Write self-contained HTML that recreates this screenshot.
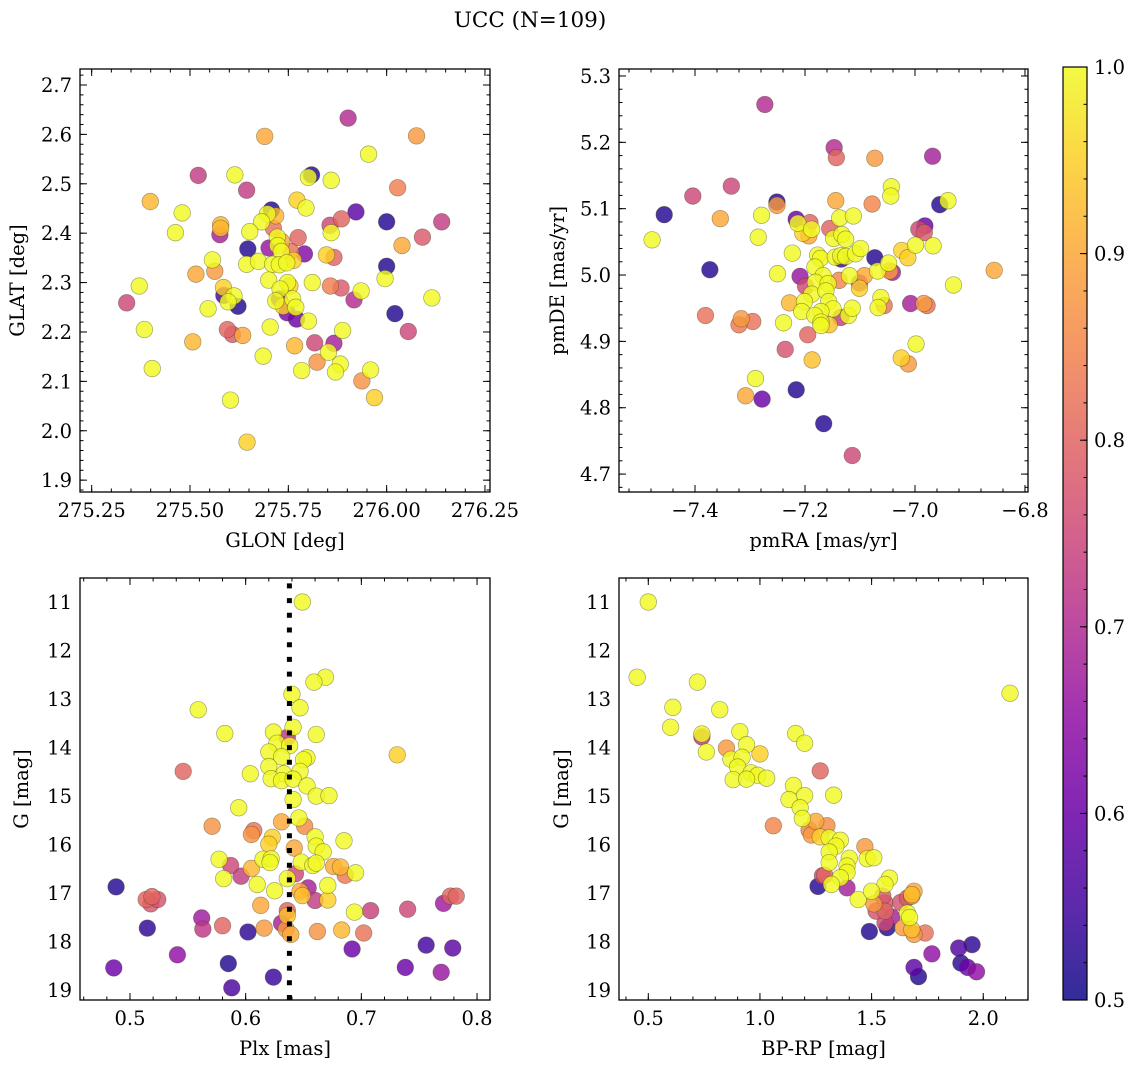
<!DOCTYPE html>
<html><head><meta charset="utf-8"><style>
html,body{margin:0;padding:0;background:#fff;}
svg{display:block;font-family:"DejaVu Serif","Liberation Serif",serif;}
</style></head><body>
<svg id="fig" width="1136" height="1067" viewBox="0 0 1136 1067" xmlns="http://www.w3.org/2000/svg">
<defs>
<linearGradient id="plasma" x1="0" y1="1" x2="0" y2="0">
<stop offset="0" stop-color="#0d0887"/><stop offset="0.1" stop-color="#41049d"/><stop offset="0.2" stop-color="#6a00a8"/><stop offset="0.3" stop-color="#8f0da4"/><stop offset="0.4" stop-color="#b12a90"/><stop offset="0.5" stop-color="#cc4778"/><stop offset="0.6" stop-color="#e16462"/><stop offset="0.7" stop-color="#f2844b"/><stop offset="0.8" stop-color="#fca636"/><stop offset="0.9" stop-color="#fcce25"/><stop offset="1" stop-color="#f0f921"/>
</linearGradient>
</defs>
<text x="530" y="27" text-anchor="middle" font-size="21.5">UCC (N=109)</text>
</svg>
<script>
// Panel 1: GLON vs GLAT
const p1_glon=[275.902,275.690,276.076,275.954,275.521,275.614,275.809,275.801,275.859,275.644,276.028,275.399,275.772,275.795,275.480,275.707,275.697,275.718,275.922,276.000,276.140,275.682,275.885,275.856,275.578,275.578,275.576,275.712,275.652,275.463,275.859,276.091,275.775,276.039,275.722,275.733,275.723,275.647,275.701,275.732,275.756,275.791,275.847,275.866,275.557,275.644,275.674,275.710,275.727,275.746,275.763,276.000,275.563,275.515,275.996,275.700,275.748,275.754,275.811,275.857,275.884,275.729,275.371,275.585,275.935,275.586,275.612,275.761,276.115,275.339,275.917,275.597,275.718,275.727,275.737,275.769,275.622,275.546,275.747,275.771,276.021,275.801,275.384,275.595,275.608,275.634,275.704,275.888,276.055,275.507,275.817,275.866,275.766,275.852,275.686,275.823,275.882,275.870,275.784,275.959,275.404,275.937,275.969,275.603,275.645];
const p1_glat=[2.633,2.596,2.597,2.560,2.517,2.518,2.518,2.513,2.507,2.487,2.492,2.464,2.467,2.451,2.441,2.447,2.439,2.435,2.443,2.423,2.423,2.423,2.429,2.416,2.417,2.410,2.397,2.410,2.403,2.401,2.401,2.392,2.391,2.375,2.392,2.383,2.375,2.368,2.370,2.363,2.363,2.358,2.356,2.351,2.346,2.337,2.343,2.337,2.336,2.340,2.345,2.333,2.323,2.317,2.308,2.305,2.300,2.293,2.300,2.293,2.289,2.287,2.293,2.290,2.283,2.274,2.273,2.267,2.269,2.259,2.265,2.261,2.263,2.267,2.252,2.250,2.252,2.247,2.239,2.226,2.237,2.222,2.205,2.205,2.195,2.193,2.210,2.203,2.201,2.180,2.178,2.177,2.172,2.159,2.151,2.139,2.135,2.119,2.122,2.123,2.126,2.101,2.067,2.062,1.977];
const p1_prob=[0.70,0.90,0.88,1,0.73,1,0.52,1,1,0.73,0.84,0.92,0.95,1,1,0.52,1,0.92,0.58,0.52,0.73,1,0.80,0.75,0.92,0.92,0.68,0.82,1,1,1,0.78,0.80,0.90,1,0.90,1,0.52,0.66,1,0.82,0.63,0.95,0.80,1,1,1,1,1,1,0.95,0.52,0.88,0.90,1,1,1,0.95,1,0.84,0.78,1,1,0.95,1,0.55,1,1,1,0.75,0.70,1,1,0.60,0.95,1,0.52,1,0.62,0.60,0.52,1,1,0.80,0.78,0.90,1,1,0.75,0.92,0.75,0.68,0.92,1,1,0.87,1,1,1,1,1,0.87,0.95,1,0.95];
// Panel 2: pmRA vs pmDE
const p2_pmra=[-7.273,-7.147,-7.143,-7.073,-6.968,-7.334,-7.404,-7.043,-7.044,-7.251,-7.251,-7.144,-7.078,-6.955,-6.940,-7.456,-7.354,-7.279,-7.216,-7.213,-7.191,-7.188,-7.204,-7.193,-7.155,-7.137,-7.112,-7.478,-7.285,-7.148,-7.133,-7.126,-6.993,-6.982,-6.983,-6.999,-6.967,-7.223,-7.177,-7.172,-7.145,-7.134,-7.135,-7.126,-7.108,-7.099,-7.073,-7.024,-7.013,-7.373,-7.250,-7.182,-7.167,-7.209,-7.199,-7.181,-7.158,-7.138,-7.119,-7.101,-7.101,-7.092,-7.068,-7.048,-7.046,-7.041,-6.856,-6.930,-7.188,-7.201,-7.228,-7.206,-7.162,-7.157,-7.149,-7.171,-7.182,-7.171,-7.171,-7.156,-7.135,-7.121,-7.114,-7.062,-7.067,-7.056,-7.008,-6.984,-6.978,-7.381,-7.316,-7.320,-7.295,-7.239,-7.195,-7.236,-7.187,-6.998,-7.025,-7.012,-7.290,-7.308,-7.278,-7.216,-7.166,-7.114];
const p2_pmde=[5.257,5.192,5.177,5.176,5.179,5.134,5.119,5.133,5.119,5.110,5.105,5.112,5.107,5.106,5.112,5.091,5.085,5.090,5.084,5.078,5.079,5.069,5.063,5.059,5.070,5.086,5.089,5.053,5.057,5.055,5.061,5.054,5.069,5.074,5.064,5.045,5.044,5.033,5.030,5.025,5.027,5.024,5.029,5.028,5.032,5.040,5.026,5.037,5.026,5.008,5.002,5.012,4.999,4.998,4.983,4.989,4.987,4.992,4.999,4.988,4.980,4.999,5.006,5.018,5.006,5.004,5.007,4.985,4.971,4.960,4.958,4.945,4.976,4.960,4.949,4.945,4.939,4.929,4.924,4.925,4.936,4.939,4.950,4.966,4.951,4.954,4.957,4.957,4.954,4.939,4.934,4.925,4.930,4.928,4.910,4.888,4.872,4.896,4.875,4.866,4.844,4.818,4.813,4.827,4.776,4.728];
const p2_prob=[0.70,0.70,0.80,0.88,0.68,0.75,0.75,1,1,0.52,0.88,0.90,0.85,0.52,1,0.52,0.90,1,0.60,1,0.80,1,0.95,0.90,0.80,1,1,1,1,1,1,1,0.75,0.60,0.78,1,1,1,1,1,1,0.55,1,1,1,1,0.52,0.95,0.95,0.52,1,1,1,0.66,0.75,1,1,0.85,1,0.68,0.95,0.90,1,1,0.88,0.68,0.90,1,1,1,0.92,1,1,1,1,1,1,1,1,0.93,0.73,1,1,1,1,0.82,0.68,0.88,0.82,0.82,0.88,0.83,0.82,1,0.80,0.77,0.93,1,0.95,0.88,1,0.90,0.60,0.52,0.52,0.75];
// Panel 3: Plx vs G
const p3_plx=[0.649,0.669,0.659,0.640,0.647,0.559,0.641,0.582,0.624,0.661,0.636,0.731,0.627,0.638,0.620,0.631,0.653,0.650,0.546,0.604,0.620,0.633,0.647,0.622,0.631,0.641,0.653,0.661,0.672,0.641,0.594,0.646,0.571,0.631,0.651,0.607,0.605,0.623,0.660,0.620,0.661,0.685,0.642,0.667,0.577,0.615,0.622,0.621,0.648,0.658,0.661,0.587,0.605,0.676,0.682,0.686,0.695,0.596,0.581,0.636,0.643,0.610,0.654,0.647,0.649,0.671,0.625,0.488,0.514,0.519,0.518,0.524,0.660,0.671,0.613,0.777,0.782,0.771,0.636,0.694,0.708,0.740,0.636,0.562,0.631,0.580,0.563,0.515,0.602,0.616,0.635,0.639,0.662,0.683,0.702,0.692,0.756,0.779,0.541,0.585,0.486,0.738,0.769,0.624,0.588];
const p3_g=[11.0,12.55,12.65,12.9,13.18,13.22,13.58,13.71,13.68,13.73,13.79,14.15,13.91,13.96,14.09,14.19,14.21,14.25,14.49,14.54,14.39,14.54,14.49,14.64,14.68,14.65,14.79,15.0,14.99,15.07,15.24,15.45,15.62,15.53,15.62,15.71,15.79,15.85,15.84,15.99,16.03,15.92,16.07,16.15,16.3,16.3,16.29,16.37,16.36,16.43,16.38,16.43,16.49,16.45,16.46,16.63,16.58,16.65,16.7,16.7,16.6,16.82,16.89,16.96,17.05,16.84,16.95,16.87,17.13,17.07,17.22,17.13,17.15,17.14,17.25,17.06,17.06,17.21,17.36,17.39,17.36,17.33,17.46,17.51,17.62,17.67,17.74,17.72,17.8,17.72,17.74,17.85,17.79,17.76,17.82,18.15,18.07,18.13,18.27,18.45,18.54,18.53,18.63,18.73,18.95];
const p3_prob=[1,1,1,1,1,1,1,1,1,1,0.72,0.95,1,1,1,1,1,1,0.80,1,1,1,1,1,1,1,1,1,1,1,1,1,0.87,0.90,0.86,0.82,0.87,0.95,1,0.95,1,1,0.90,1,1,1,1,1,1,1,1,0.75,0.92,0.90,0.92,0.83,1,0.73,1,1,0.75,1,0.68,0.90,0.93,1,1,0.52,0.80,0.80,0.77,0.77,0.73,0.95,0.90,0.80,0.80,0.67,0.80,1,0.74,0.75,0.93,0.67,0.68,0.80,0.72,0.53,0.53,0.88,0.88,0.90,0.87,0.92,0.82,0.60,0.55,0.58,0.65,0.52,0.60,0.60,0.66,0.54,0.56];
// Panel 4: BP-RP vs G
const p4_bprp=[0.50,0.45,0.72,2.12,0.61,0.82,0.60,0.74,0.74,0.91,1.16,1.20,0.94,0.76,0.85,1.00,0.87,0.92,0.90,1.27,0.96,0.99,0.88,0.94,1.03,1.15,1.33,1.20,1.13,1.18,1.19,1.06,1.25,1.30,1.22,1.23,1.27,1.31,1.36,1.34,1.47,1.31,1.40,1.48,1.51,1.39,1.31,1.39,1.36,1.29,1.28,1.32,1.26,1.39,1.58,1.56,1.44,1.50,1.51,1.55,1.56,1.52,1.56,1.59,1.56,1.57,1.49,1.63,1.66,1.68,1.69,1.68,1.66,1.67,1.64,1.68,1.69,1.74,1.77,1.89,1.95,1.90,1.93,1.69,1.97,1.71];
const p4_g=[11.0,12.55,12.65,12.88,13.17,13.22,13.58,13.78,13.72,13.67,13.71,13.91,13.94,14.09,14.01,14.13,14.24,14.2,14.4,14.48,14.52,14.57,14.66,14.65,14.63,14.78,14.98,14.99,15.07,15.24,15.46,15.61,15.52,15.61,15.7,15.8,15.84,15.86,15.91,16.03,16.04,16.15,16.28,16.29,16.27,16.44,16.37,16.57,16.68,16.63,16.64,16.82,16.86,16.89,16.69,16.82,17.13,16.96,17.22,17.06,17.2,17.37,17.37,17.49,17.61,17.71,17.79,17.19,17.1,17.06,16.96,17.03,17.41,17.5,17.71,17.75,17.85,17.82,18.25,18.13,18.06,18.44,18.53,18.53,18.62,18.72];
const p4_prob=[1,1,1,1,1,1,1,0.72,1,1,1,1,1,1,0.88,0.95,1,1,1,0.80,1,1,1,1,1,1,1,1,1,1,1,0.85,0.90,0.86,0.85,0.88,0.95,1,1,1,0.88,1,1,1,1,1,1,1,1,0.80,0.75,1,0.52,0.68,1,1,1,1,0.88,0.78,0.77,0.77,0.80,0.68,0.75,0.52,0.52,0.77,0.78,0.88,0.90,0.93,1,1,0.88,0.93,0.88,0.82,0.65,0.57,0.53,0.53,0.60,0.58,0.65,0.52];
// Tick labels
const p1_xticks=[275.25,275.50,275.75,276.00,276.25];
const p1_yticks=[1.9,2.0,2.1,2.2,2.3,2.4,2.5,2.6,2.7];
const p2_xticks=[-7.4,-7.2,-7.0,-6.8];
const p2_yticks=[4.7,4.8,4.9,5.0,5.1,5.2,5.3];
const p3_xticks=[0.5,0.6,0.7,0.8];
const g_yticks=[11,12,13,14,15,16,17,18,19];
const p4_xticks=[0.5,1.0,1.5,2.0];
const cb_ticks=[0.5,0.6,0.7,0.8,0.9,1.0];
const plxMedian=0.6378;

const NS='http://www.w3.org/2000/svg';
const svg=document.getElementById('fig');
const FS=19.5;
function mk(tag,attrs,parent){const e=document.createElementNS(NS,tag);for(const k in attrs)e.setAttribute(k,attrs[k]);(parent||svg).appendChild(e);return e;}
const stops=[[0,[13,8,135]],[0.1,[65,4,157]],[0.2,[106,0,168]],[0.3,[143,13,164]],[0.4,[177,42,144]],[0.5,[204,71,120]],[0.6,[225,100,98]],[0.7,[242,132,75]],[0.8,[252,166,54]],[0.9,[252,206,37]],[1,[240,249,33]]];
function plasma(t){t=Math.max(0,Math.min(1,t));for(let i=1;i<stops.length;i++){if(t<=stops[i][0]){const a=stops[i-1],b=stops[i];const f=(t-a[0])/(b[0]-a[0]);const c=a[1].map((v,j)=>Math.round(v+(b[1][j]-v)*f));return 'rgb('+c.join(',')+')';}}return 'rgb(240,249,33)';}
function lin(d0,d1,r0,r1){return v=>r0+(v-d0)/(d1-d0)*(r1-r0);}

function panel(cfg){
  const g=mk('g',{});
  
  
  const {L,R,T,B}=cfg;
  const sx=lin(cfg.xmin,cfg.xmax,L,R), sy=lin(cfg.ymin,cfg.ymax,B,T);
  const pts=mk('g',{},g);
  
  
  const order=cfg.p.map((_,i)=>i).sort((a,b)=>cfg.p[a]-cfg.p[b]);
  order.forEach(i=>{
    const c=mk('circle',{cx:sx(cfg.x[i]),cy:sy(cfg.y[i]),r:8.3,fill:plasma((cfg.p[i]-0.5)/0.5),'fill-opacity':0.82,stroke:'rgba(60,60,20,0.45)','stroke-width':0.7},pts);
    
    
  });
  if(cfg.extra)cfg.extra(g,sx,sy);
  const fr=mk('rect',{x:L,y:T,width:R-L,height:B-T,fill:'none',stroke:'#000','stroke-width':1.3},g);
  
  
  const tk=mk('g',{stroke:'#000','stroke-width':1},g);
  function ticks(min,max,step,len,isX){
    const s=Math.ceil(min/step-1e-6);
    for(let k=s;k*step<=max+1e-9;k++){const v=k*step;
      if(isX){const x=sx(v);mk('line',{x1:x,x2:x,y1:B,y2:B-len},tk);mk('line',{x1:x,x2:x,y1:T,y2:T+len},tk);}
      else{const y=sy(v);mk('line',{x1:L,x2:L+len,y1:y,y2:y},tk);mk('line',{x1:R,x2:R-len,y1:y,y2:y},tk);}
    }
  }
  ticks(cfg.xmin,cfg.xmax,cfg.xminor,3.5,true);ticks(cfg.ymin,cfg.ymax,cfg.yminor,3.5,false);
  ticks(cfg.xmin,cfg.xmax,cfg.xmajor,7,true);ticks(cfg.ymin,cfg.ymax,cfg.ymajor,7,false);
  cfg.xt.forEach(v=>{const t=mk('text',{x:sx(v),y:B+25,'text-anchor':'middle','font-size':FS},g);t.textContent=cfg.xf(v);
    
    });
  cfg.yt.forEach(v=>{const t=mk('text',{x:L-8,y:sy(v)+7,'text-anchor':'end','font-size':FS},g);t.textContent=cfg.yf(v);
    
    });
  const xl=mk('text',{x:(L+R)/2,y:B+55,'text-anchor':'middle','font-size':FS},g);xl.textContent=cfg.xlabel;
  
  
  const yx=cfg.ylx,yy=(T+B)/2;
  const yl=mk('text',{x:yx,y:yy,'text-anchor':'middle','font-size':FS,transform:`rotate(-90 ${yx} ${yy})`},g);yl.textContent=cfg.ylabel;
  
  
}
const m=v=>(v<0?'\u2212':'')+Math.abs(v).toFixed(1);
panel({name:'glon-glat-panel',L:80,R:490,T:69,B:492,xmin:275.2203,xmax:276.2628,ymin:1.876,ymax:2.7324,xmajor:0.25,xminor:0.05,ymajor:0.1,yminor:0.02,
  x:p1_glon,y:p1_glat,p:p1_prob,xt:p1_xticks,yt:p1_yticks,xf:v=>v.toFixed(2),yf:v=>v.toFixed(1),xlabel:'GLON [deg]',ylabel:'GLAT [deg]',ylx:24});
panel({name:'pm-panel',L:619,R:1028,T:69,B:492,xmin:-7.5382,xmax:-6.7945,ymin:4.673,ymax:5.3105,xmajor:0.2,xminor:0.04,ymajor:0.1,yminor:0.02,
  x:p2_pmra,y:p2_pmde,p:p2_prob,xt:p2_xticks,yt:p2_yticks,xf:m,yf:v=>v.toFixed(1),xlabel:'pmRA [mas/yr]',ylabel:'pmDE [mas/yr]',ylx:564});
panel({name:'plx-g-panel',L:80,R:490,T:578,B:1000,xmin:0.4568,xmax:0.8112,ymin:19.201,ymax:10.505,xmajor:0.1,xminor:0.02,ymajor:1,yminor:0.2,
  x:p3_plx,y:p3_g,p:p3_prob,xt:p3_xticks,yt:g_yticks,xf:v=>v.toFixed(1),yf:v=>String(v),xlabel:'Plx [mas]',ylabel:'G [mag]',ylx:28,
  extra:(g,sx,sy)=>{const l=mk('line',{x1:sx(plxMedian),x2:sx(plxMedian),y1:1000,y2:578,stroke:'#000','stroke-width':5,'stroke-dasharray':'5,9.7'},g);
    
    }});
panel({name:'cmd-panel',L:619,R:1028,T:578,B:1000,xmin:0.3688,xmax:2.2004,ymin:19.201,ymax:10.505,xmajor:0.5,xminor:0.1,ymajor:1,yminor:0.2,
  x:p4_bprp,y:p4_g,p:p4_prob,xt:p4_xticks,yt:g_yticks,xf:v=>v.toFixed(1),yf:v=>String(v),xlabel:'BP-RP [mag]',ylabel:'G [mag]',ylx:568});
// colorbar
const cb=mk('g',{});


const CT=67,CB=1000,CL=1063,CR=1087;
mk('rect',{x:CL,y:CT,width:CR-CL,height:CB-CT,fill:'url(#plasma)','fill-opacity':0.85},cb);
mk('rect',{x:CL,y:CT,width:CR-CL,height:CB-CT,fill:'none',stroke:'#000','stroke-width':1.2},cb);
const cy=lin(0.5,1.0,CB,CT);
for(let k=25;k<=50;k++){const v=k*0.02,y=cy(v);mk('line',{x1:CR,x2:CR-3.5,y1:y,y2:y,stroke:'#000'},cb);}
cb_ticks.forEach(v=>{const y=cy(v);mk('line',{x1:CR,x2:CR-7,y1:y,y2:y,stroke:'#000'},cb);
  const t=mk('text',{x:CR+7,y:y+7,'font-size':FS},cb);t.textContent=v.toFixed(1);
  
  });
</script>
</body></html>
